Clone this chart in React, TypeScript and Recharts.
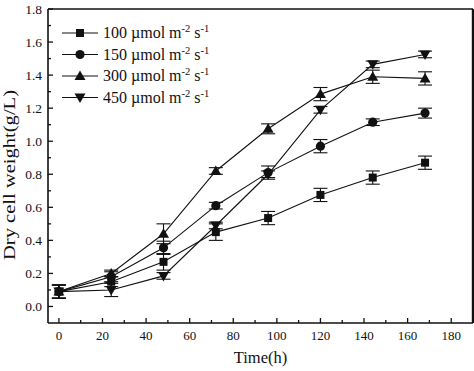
import React from 'react';
import { LineChart, Line, XAxis, YAxis, ErrorBar, ReferenceLine, Legend, Label } from 'recharts';

const times = [0, 24, 48, 72, 96, 120, 144, 168];
const dw100 = [0.09, 0.15, 0.27, 0.45, 0.535, 0.675, 0.78, 0.87];
const err100 = [0.04, 0.03, 0.05, 0.05, 0.04, 0.04, 0.04, 0.04];
const dw150 = [0.09, 0.18, 0.355, 0.61, 0.81, 0.97, 1.115, 1.17];
const err150 = [0.04, 0.03, 0.04, 0.02, 0.04, 0.04, 0.02, 0.03];
const dw300 = [0.09, 0.2, 0.44, 0.82, 1.075, 1.285, 1.39, 1.38];
const err300 = [0.04, 0.02, 0.06, 0.02, 0.03, 0.04, 0.04, 0.04];
const dw450 = [0.09, 0.1, 0.185, 0.49, 0.8, 1.19, 1.465, 1.525];
const err450 = [0.04, 0.04, 0.02, 0.02, 0.02, 0.02, 0.02, 0.02];
const seriesNames = ['100', '150', '300', '450'];
const xTicks = [0, 10, 20, 30, 40, 50, 60, 70, 80, 90, 100, 110, 120, 130, 140, 150, 160, 170, 180];
const yTicks = [0, 0.1, 0.2, 0.3, 0.4, 0.5, 0.6, 0.7, 0.8, 0.9, 1.0, 1.1, 1.2, 1.3, 1.4, 1.5, 1.6, 1.7, 1.8];

const data = times.map((t, i) => ({
  t,
  s100: dw100[i], e100: err100[i],
  s150: dw150[i], e150: err150[i],
  s300: dw300[i], e300: err300[i],
  s450: dw450[i], e450: err450[i],
}));

const FONT = 'Liberation Serif';
const INK = '#111';

type Shape = 'square' | 'circle' | 'up' | 'down';
const shapes: Shape[] = ['square', 'circle', 'up', 'down'];

const marker = (shape: Shape, cx: number, cy: number, key?: string) => {
  if (shape === 'square') return <rect key={key} x={cx - 4} y={cy - 4} width={8} height={8} fill={INK} />;
  if (shape === 'circle') return <circle key={key} cx={cx} cy={cy} r={4.6} fill={INK} />;
  if (shape === 'up')
    return <polygon key={key} points={`${cx},${cy - 5.5} ${cx - 5.5},${cy + 4} ${cx + 5.5},${cy + 4}`} fill={INK} />;
  return <polygon key={key} points={`${cx},${cy + 5.5} ${cx - 5.5},${cy - 4} ${cx + 5.5},${cy - 4}`} fill={INK} />;
};

const dotFor = (shape: Shape) => (p: any) => marker(shape, p.cx, p.cy, `${shape}-${p.index}`);

const XTick = (p: any) => {
  const v = p.payload.value;
  const major = v % 20 === 0;
  return (
    <g>
      <line x1={p.x} x2={p.x} y1={p.y} y2={p.y - (major ? 5 : 3)} stroke={INK} strokeWidth={1.3} />
      {major && (
        <text x={p.x} y={p.y + 17} textAnchor="middle" fontSize={13} fontFamily={FONT} fill={INK}>
          {v}
        </text>
      )}
    </g>
  );
};

const YTick = (p: any) => {
  const v = p.payload.value;
  const major = Math.round(v * 10) % 2 === 0;
  return (
    <g>
      <line x1={p.x} x2={p.x + (major ? 5 : 3)} y1={p.y} y2={p.y} stroke={INK} strokeWidth={1.3} />
      {major && (
        <text x={p.x - 6} y={p.y} dy="0.35em" textAnchor="end" fontSize={13.5} fontFamily={FONT} fill={INK}>
          {v.toFixed(1)}
        </text>
      )}
    </g>
  );
};

const LegendBox = () => (
  <svg width={180} height={95}>
    {seriesNames.map((name, i) => {
      const cy = 13 + i * 21.5;
      return (
        <g key={name}>
          <line x1={7} x2={43} y1={cy} y2={cy} stroke={INK} strokeWidth={1.2} />
          {marker(shapes[i], 25, cy)}
          <text x={48} y={cy + 5} fontSize={16} fontFamily={FONT} fill={INK}>
            {name} µmol m
            <tspan dy={-6} fontSize={10.5}>-2</tspan>
            <tspan dy={6}> s</tspan>
            <tspan dy={-6} fontSize={10.5}>-1</tspan>
          </text>
        </g>
      );
    })}
  </svg>
);

export default function App() {
  return (
    <div style={{ position: 'absolute', left: 0, top: 0, background: '#fff' }}>
      <LineChart width={474} height={371} data={data} margin={{ top: 9, right: 1, left: 0, bottom: 0 }}>
        <XAxis
          dataKey="t"
          type="number"
          domain={[-5, 190]}
          ticks={xTicks}
          interval={0}
          tickSize={0}
          tickMargin={0}
          tickLine={false}
          tick={<XTick />}
          height={48}
          axisLine={{ stroke: INK, strokeWidth: 1.6 }}
        >
          <Label
            content={() => (
              <text x={260.5} y={363} textAnchor="middle" fontSize={16.5} fontFamily={FONT} fill={INK}>
                Time(h)
              </text>
            )}
          />
        </XAxis>
        <YAxis
          type="number"
          domain={[-0.1, 1.8]}
          ticks={yTicks}
          interval={0}
          tickSize={0}
          tickMargin={0}
          tickLine={false}
          tick={<YTick />}
          width={48}
          axisLine={{ stroke: INK, strokeWidth: 1.6 }}
        >
          <Label
            content={() => (
              <text
                x={15}
                y={175}
                transform="rotate(-90 15 175)"
                textAnchor="middle"
                fontSize={17}
                textLength={170}
                lengthAdjust="spacingAndGlyphs"
                fontFamily={FONT}
                fill={INK}
              >
                Dry cell weight(g/L)
              </text>
            )}
          />
        </YAxis>
        <ReferenceLine y={1.8} stroke={INK} strokeWidth={1.6} />
        <ReferenceLine x={190} stroke={INK} strokeWidth={2.4} />
        {seriesNames.map((name, i) => (
          <Line
            key={name}
            dataKey={`s${name}`}
            stroke={INK}
            strokeWidth={1.1}
            dot={dotFor(shapes[i])}
            activeDot={false}
            isAnimationActive={false}
          >
            <ErrorBar dataKey={`e${name}`} direction="y" width={7} stroke={INK} strokeWidth={1.1} />
          </Line>
        ))}
        <Legend
          layout="vertical"
          align="center"
          verticalAlign="middle"
          content={<LegendBox />}
          wrapperStyle={{ left: 55, top: 20, width: 180, height: 95 }}
        />
      </LineChart>
    </div>
  );
}
